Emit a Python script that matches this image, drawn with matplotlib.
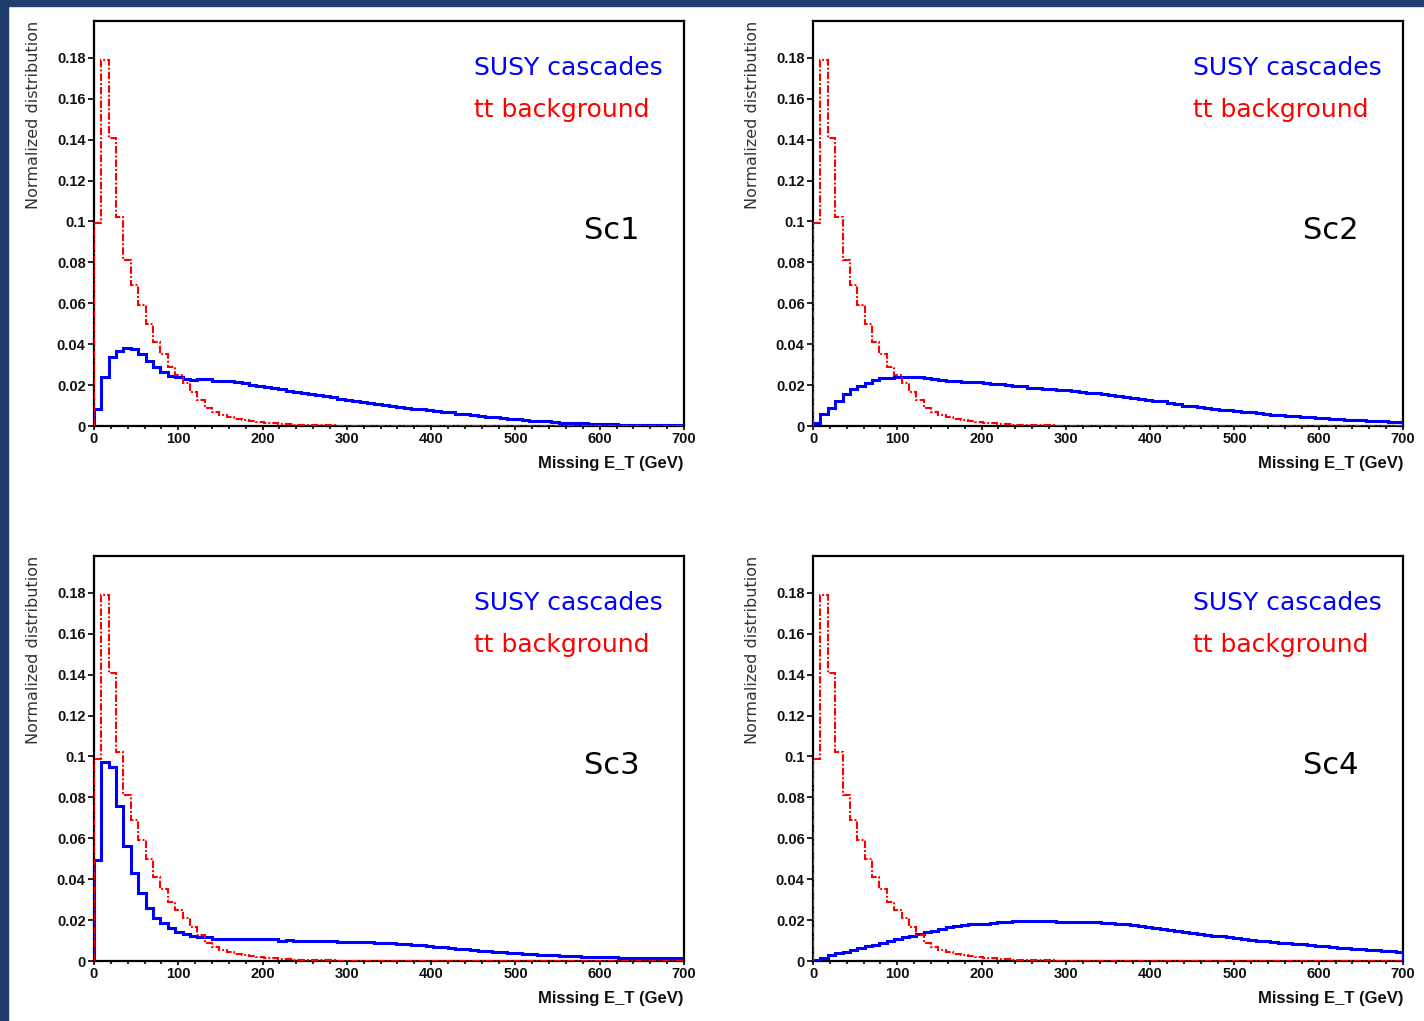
import numpy as np
import matplotlib
matplotlib.use("Agg")
import matplotlib.pyplot as plt
from matplotlib.patches import Rectangle
from matplotlib.ticker import MultipleLocator, FixedLocator

# ---------------- data ----------------
x_min, x_max, n_bins = 0.0, 700.0, 80
bin_edges = np.linspace(x_min, x_max, n_bins + 1)

tt_background = [0.099, 0.179, 0.141, 0.102, 0.081, 0.069, 0.059, 0.050, 0.041, 0.035,
                 0.029, 0.025, 0.021, 0.0165, 0.0125, 0.0090, 0.0068, 0.0055, 0.0043, 0.0035,
                 0.0028, 0.0024, 0.0019, 0.0016, 0.0013, 0.0010, 0.0008, 0.0006, 0.0005, 0.0004,
                 0.0004, 0.0003, 0.0003, 0.0002] + [0.0] * 46

susy_sc1 = [0.0085, 0.0240, 0.0335, 0.0365, 0.0380, 0.0378, 0.0350, 0.0320, 0.0290, 0.0262,
            0.0245, 0.0238, 0.0228, 0.0225, 0.0228, 0.0228, 0.0222, 0.0220, 0.0218, 0.0214,
            0.0210, 0.0202, 0.0197, 0.0192, 0.0185, 0.0180, 0.0172, 0.0168, 0.0162, 0.0157,
            0.0150, 0.0145, 0.0140, 0.0133, 0.0128, 0.0120, 0.0116, 0.0110, 0.0106, 0.0102,
            0.0097, 0.0093, 0.0090, 0.0085, 0.0082, 0.0078, 0.0073, 0.0070, 0.0066, 0.0061,
            0.0057, 0.0053, 0.0049, 0.0046, 0.0042, 0.0038, 0.0036, 0.0033, 0.0028, 0.0025,
            0.0024, 0.0022, 0.0019, 0.0017, 0.0016, 0.0015, 0.0013, 0.0011, 0.0009, 0.0008,
            0.0008, 0.0007, 0.0007, 0.0006, 0.0006, 0.0004, 0.0003, 0.0003, 0.0003, 0.0003]

susy_sc2 = [0.0016, 0.0057, 0.0090, 0.0123, 0.0156, 0.0180, 0.0197, 0.0210, 0.0225, 0.0233,
            0.0237, 0.0239, 0.0240, 0.0241, 0.0240, 0.0235, 0.0230, 0.0223, 0.0221, 0.0220,
            0.0215, 0.0214, 0.0213, 0.0212, 0.0207, 0.0204, 0.0200, 0.0196, 0.0194, 0.0188,
            0.0185, 0.0183, 0.0180, 0.0178, 0.0176, 0.0170, 0.0166, 0.0163, 0.0160, 0.0155,
            0.0151, 0.0148, 0.0140, 0.0137, 0.0134, 0.0127, 0.0123, 0.0120, 0.0112, 0.0106,
            0.0100, 0.0096, 0.0092, 0.0088, 0.0084, 0.0080, 0.0076, 0.0072, 0.0069, 0.0066,
            0.0062, 0.0059, 0.0056, 0.0053, 0.0050, 0.0047, 0.0044, 0.0042, 0.0040, 0.0037,
            0.0035, 0.0033, 0.0031, 0.0029, 0.0027, 0.0025, 0.0024, 0.0022, 0.0021, 0.0020]

susy_sc3 = [0.0492, 0.0974, 0.0950, 0.0758, 0.0564, 0.0430, 0.0331, 0.0257, 0.0208, 0.0184,
            0.0159, 0.0143, 0.0130, 0.0121, 0.0115, 0.0115, 0.0107, 0.0107, 0.0107, 0.0107,
            0.0107, 0.0107, 0.0107, 0.0107, 0.0107, 0.0098, 0.0102, 0.0097, 0.0097, 0.0097,
            0.0097, 0.0097, 0.0096, 0.0095, 0.0094, 0.0093, 0.0092, 0.0091, 0.0090, 0.0089,
            0.0087, 0.0085, 0.0083, 0.0080, 0.0077, 0.0074, 0.0070, 0.0067, 0.0063, 0.0060,
            0.0057, 0.0054, 0.0051, 0.0048, 0.0045, 0.0042, 0.0040, 0.0037, 0.0035, 0.0033,
            0.0031, 0.0029, 0.0027, 0.0026, 0.0024, 0.0023, 0.0022, 0.0021, 0.0020, 0.0019,
            0.0018, 0.0017, 0.0016, 0.0016, 0.0015, 0.0015, 0.0014, 0.0014, 0.0013, 0.0013]

susy_sc4 = [0.0005, 0.0015, 0.0028, 0.0038, 0.0046, 0.0055, 0.0063, 0.0071, 0.0080, 0.0088,
            0.0097, 0.0106, 0.0115, 0.0124, 0.0133, 0.0141, 0.0149, 0.0157, 0.0164, 0.0172,
            0.0178, 0.0180, 0.0182, 0.0183, 0.0186, 0.0189, 0.0192, 0.0195, 0.0196, 0.0197,
            0.0196, 0.0197, 0.0196, 0.0193, 0.0191, 0.0190, 0.0190, 0.0189, 0.0189, 0.0188,
            0.0186, 0.0183, 0.0180, 0.0177, 0.0172, 0.0168, 0.0163, 0.0158, 0.0153, 0.0148,
            0.0144, 0.0139, 0.0134, 0.0129, 0.0124, 0.0120, 0.0115, 0.0112, 0.0108, 0.0104,
            0.0100, 0.0097, 0.0093, 0.0090, 0.0087, 0.0084, 0.0081, 0.0078, 0.0075, 0.0072,
            0.0069, 0.0066, 0.0063, 0.0060, 0.0058, 0.0055, 0.0053, 0.0050, 0.0048, 0.0046]

scenario_labels = ["Sc1", "Sc2", "Sc3", "Sc4"]
susy_series = [susy_sc1, susy_sc2, susy_sc3, susy_sc4]

y_ticks = [0, 0.02, 0.04, 0.06, 0.08, 0.1, 0.12, 0.14, 0.16, 0.18]
y_ticklabels = ["0", "0.02", "0.04", "0.06", "0.08", "0.1", "0.12", "0.14", "0.16", "0.18"]
x_ticks = [0, 100, 200, 300, 400, 500, 600, 700]
x_ticklabels = ["0", "100", "200", "300", "400", "500", "600", "700"]

legend_susy = "SUSY cascades"
legend_tt = "tt background"
y_title = "Normalized distribution"
x_title = "Missing E_T (GeV)"

# ---------------- figure ----------------
W, H = 1424, 1021
fig = plt.figure(figsize=(W / 100, H / 100), dpi=100, facecolor="white")

# dark blue slide frame (top and left strips)
fig.patches.append(Rectangle((0, 1 - 6 / H), 1, 6 / H, transform=fig.transFigure,
                             color="#21406f", zorder=0))
fig.patches.append(Rectangle((0, 0), 8 / W, 1, transform=fig.transFigure,
                             color="#1d3b6a", zorder=0))

narrow = ["Liberation Sans Narrow", "Liberation Sans", "DejaVu Sans"]

panel_px = [(94, 21), (813, 21), (94, 556), (813, 556)]  # left, top in pixels
pw, ph = 590, 405

for k, (lx, ty) in enumerate(panel_px):
    ax = fig.add_axes([lx / W, 1 - (ty + ph) / H, pw / W, ph / H])
    ax.set_xlim(x_min, x_max)
    ax.set_ylim(0, 0.198)

    ax.stairs(susy_series[k], bin_edges, baseline=0, color="#0000ff", lw=2.2, zorder=3)
    ax.stairs(tt_background, bin_edges, baseline=0, color="#ff0000", lw=1.5,
              linestyle=(0, (3.6, 1.0, 0.9, 1.0)), zorder=4)

    for s in ax.spines.values():
        s.set_linewidth(1.6)
        s.set_color("black")

    ax.yaxis.set_major_locator(FixedLocator(y_ticks))
    ax.set_yticklabels(y_ticklabels)
    ax.xaxis.set_major_locator(FixedLocator(x_ticks))
    ax.set_xticklabels(x_ticklabels)
    ax.xaxis.set_minor_locator(MultipleLocator(20))
    ax.tick_params(axis="y", direction="out", length=4.5, width=1.2, pad=1.5)
    ax.tick_params(axis="x", which="major", direction="out", length=3, width=1.2, pad=1)
    ax.tick_params(axis="x", which="minor", direction="out", length=2.5, width=1.2)
    for lab in ax.get_xticklabels() + ax.get_yticklabels():
        lab.set_family(narrow)
        lab.set_fontweight("bold")
        lab.set_fontsize(10.5)
        lab.set_color("#111111")

    ax.text(-0.103, 1.0, y_title, transform=ax.transAxes, rotation=90,
            ha="center", va="top", fontsize=11.5, color="#333333",
            family="DejaVu Sans")
    ax.text(1.0, -0.092, x_title, transform=ax.transAxes, ha="right", va="center",
            fontsize=12, fontweight="bold", family=narrow, color="#111111")

    ax.text(0.644, 0.884, legend_susy, transform=ax.transAxes, ha="left", va="center",
            fontsize=18, color="#0000ff", family="DejaVu Sans")
    ax.text(0.644, 0.780, legend_tt, transform=ax.transAxes, ha="left", va="center",
            fontsize=18, color="#ff0000", family="DejaVu Sans")
    ax.text(0.8305, 0.483, scenario_labels[k], transform=ax.transAxes, ha="left",
            va="center", fontsize=22, color="black", family="DejaVu Sans")

fig.savefig("out.png", dpi=100, facecolor="white")
